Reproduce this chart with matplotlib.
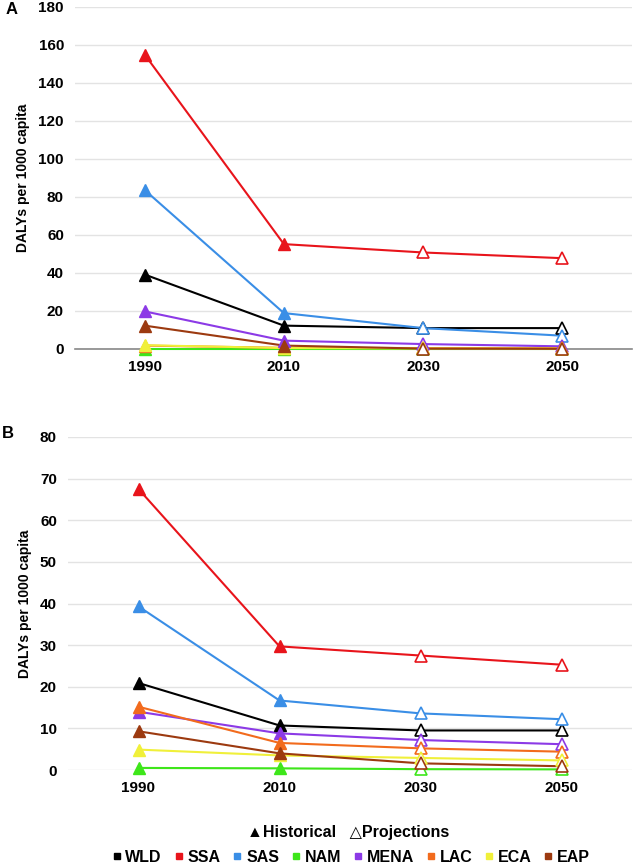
import matplotlib
matplotlib.use("Agg")
import matplotlib.pyplot as plt
from matplotlib.lines import Line2D
from matplotlib import font_manager

names = {f.name for f in font_manager.fontManager.ttflist}
FONT = "Liberation Sans Narrow" if "Liberation Sans Narrow" in names else "Liberation Sans"
plt.rcParams['font.family'] = [FONT, 'DejaVu Sans']

years = ["1990", "2010", "2030", "2050"]
regions = ["WLD", "SSA", "SAS", "NAM", "MENA", "LAC", "ECA", "EAP"]
colors = ["#000000", "#e8141b", "#3a8ee6", "#3ee61a", "#8c3ae6", "#f26b1d", "#f0f03a", "#9c3a10"]

# Panel A values
a_WLD = [39.2, 12.3, 11.0, 11.0]
a_SSA = [155.0, 55.2, 50.8, 47.8]
a_SAS = [83.7, 18.9, 11.0, 7.0]
a_NAM = [0.1, 0.1, 0.1, 0.1]
a_MENA = [19.8, 4.4, 2.6, 1.4]
a_LAC = [1.8, 0.6, 0.5, 0.4]
a_ECA = [2.0, 0.5, 0.3, 0.2]
a_EAP = [12.3, 1.8, 0.2, 0.1]

# Panel B values
b_WLD = [20.9, 10.7, 9.5, 9.5]
b_SSA = [67.5, 29.7, 27.5, 25.3]
b_SAS = [39.3, 16.7, 13.6, 12.2]
b_NAM = [0.5, 0.4, 0.2, 0.15]
b_MENA = [14.0, 8.8, 7.2, 6.2]
b_LAC = [15.2, 6.5, 5.2, 4.4]
b_ECA = [4.9, 3.5, 2.9, 2.3]
b_EAP = [9.3, 4.0, 1.6, 0.9]

panelA = [a_WLD, a_SSA, a_SAS, a_NAM, a_MENA, a_LAC, a_ECA, a_EAP]
panelB = [b_WLD, b_SSA, b_SAS, b_NAM, b_MENA, b_LAC, b_ECA, b_EAP]

n_hist = 2
W, H = 634, 866
fig = plt.figure(figsize=(W / 100, H / 100), dpi=100)

def draw(ax, data, ymax, step, axisline):
    x = list(range(len(years)))
    for vals, c in zip(data, colors):
        ax.plot(x, vals, color=c, lw=1.5, zorder=3, clip_on=False)
        ax.plot(x[:n_hist], vals[:n_hist], ls='none', marker='^', ms=9,
                mfc=c, mec=c, zorder=4, clip_on=False)
        ax.plot(x[n_hist:], vals[n_hist:], ls='none', marker='^', ms=9,
                mfc='white', mec=c, mew=1.2, zorder=4, clip_on=False)
    ax.set_xlim(-0.5, len(years) - 0.5)
    ax.set_ylim(0, ymax)
    ax.set_yticks(range(0, ymax + 1, step))
    ax.set_xticks(x)
    ax.set_xticklabels(years)
    ax.grid(axis='y', color='#e3e3e3', lw=1)
    ax.set_axisbelow(True)
    for s in ['top', 'right', 'left']:
        ax.spines[s].set_visible(False)
    if axisline:
        ax.spines['bottom'].set_color('#888888')
        ax.spines['bottom'].set_linewidth(1.2)
        ax.spines['bottom'].set_zorder(2)
    else:
        ax.spines['bottom'].set_visible(False)
    ax.tick_params(length=0, labelsize=11, pad=8)
    for lab in ax.get_xticklabels() + ax.get_yticklabels():
        lab.set_fontweight('bold')
    ax.set_ylabel("DALYs per 1000 capita", fontsize=10, fontweight='bold', labelpad=6)

axA = fig.add_axes([75 / W, 1 - 349 / H, (632 - 75) / W, (349 - 7) / H])
axA.patch.set_alpha(0)
draw(axA, panelA, 180, 20, True)

axB = fig.add_axes([68 / W, 1 - 770 / H, (632 - 68) / W, (770 - 437) / H])
axB.patch.set_alpha(0)
draw(axB, panelB, 80, 10, False)

fig.text(12 / W, 1 - 10 / H, "A", fontsize=12, fontweight='bold', ha='center', va='center')
fig.text(8 / W, 1 - 433 / H, "B", fontsize=12, fontweight='bold', ha='center', va='center')

fig.text(348 / W, 1 - 832 / H, "▲Historical   △Projections", fontsize=11.5,
         fontweight='bold', ha='center', va='center', family=[FONT, 'DejaVu Sans'])

handles = [Line2D([], [], ls='none', marker='s', ms=5, mfc=c, mec=c) for c in colors]
leg = fig.legend(handles, regions, loc='center', bbox_to_anchor=(351 / W, 1 - 857 / H),
                 ncol=8, frameon=False, handlelength=0.6, handletextpad=0.25,
                 columnspacing=0.75, prop={'weight': 'bold', 'size': 11.5, 'family': FONT})

fig.savefig("out.png", dpi=100)
